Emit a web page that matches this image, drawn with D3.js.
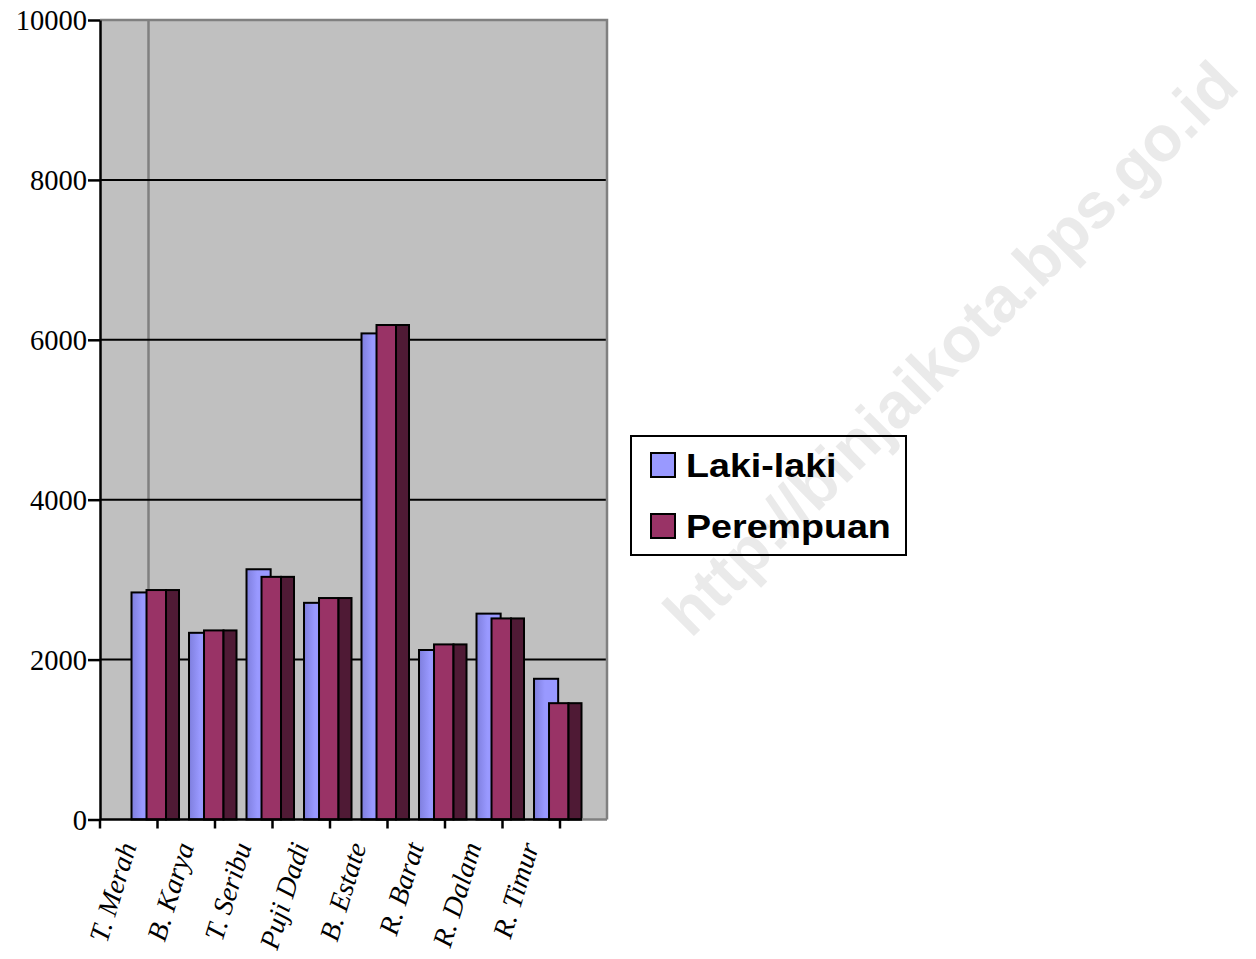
<!DOCTYPE html>
<html>
<head>
<meta charset="utf-8">
<script src="https://cdn.jsdelivr.net/npm/d3@7"></script>
<style>
  html, body { margin: 0; padding: 0; background: #ffffff; }
  svg { display: block; }
</style>
</head>
<body>
<svg id="chart" width="1256" height="959"></svg>
<script>
const categories = ["T. Merah", "B. Karya", "T. Seribu", "Puji Dadi", "B. Estate", "R. Barat", "R. Dalam", "R. Timur"];
const lakiLaki  = [2840, 2335, 3130, 2710, 6080, 2120, 2575, 1760];
const perempuan = [2870, 2365, 3035, 2770, 6185, 2190, 2515, 1455];
const yTicks = [0, 2000, 4000, 6000, 8000, 10000];
const seriesNames = ["Laki-laki", "Perempuan"];
const watermark = "http://binjaikota.bps.go.id";

const svg = d3.select("#chart");
const colBlue = "#9999FF", colRed = "#993366", colSide = "#4F1A35";

const defs = svg.append("defs");
const g1 = defs.append("linearGradient").attr("id", "blueGrad").attr("x1", "0%").attr("x2", "100%");
g1.append("stop").attr("offset", "0%").attr("stop-color", "#7E7EDD");
g1.append("stop").attr("offset", "45%").attr("stop-color", "#9999FF");
g1.append("stop").attr("offset", "100%").attr("stop-color", "#9999FF");

// watermark (behind)
svg.append("text")
  .attr("transform", "translate(966,364) rotate(-45)")
  .attr("text-anchor", "middle")
  .style("font-family", "'Liberation Sans', Arial, sans-serif")
  .style("font-weight", "bold")
  .style("font-size", "64px")
  .attr("fill", "#EAEAEA")
  .text(watermark);

const plotLeft = 100, plotRight = 607, plotTop = 20, plotBottom = 819.5;
const x = d3.scaleBand().domain(categories).range([100, 560]).padding(0);
const y = d3.scaleLinear().domain([0, 10000]).range([plotBottom, plotTop]);
const bw = x.bandwidth();

// plot background
svg.append("rect").attr("x", plotLeft).attr("y", plotTop)
  .attr("width", plotRight - plotLeft).attr("height", plotBottom - plotTop)
  .attr("fill", "#C0C0C0");

// back wall edge line
svg.append("line").attr("x1", 148.5).attr("x2", 148.5).attr("y1", plotTop).attr("y2", plotBottom)
  .attr("stroke", "#808080").attr("stroke-width", 2.5);

// gridlines
svg.append("g").selectAll("line").data(yTicks.filter(d => d > 0 && d < 10000)).join("line")
  .attr("x1", plotLeft).attr("x2", plotRight)
  .attr("y1", d => y(d)).attr("y2", d => y(d))
  .attr("stroke", "#000").attr("stroke-width", 2);

// plot border top/right (gray)
svg.append("path")
  .attr("d", `M${plotLeft},${plotTop}H${plotRight}V${plotBottom}`)
  .attr("fill", "none").attr("stroke", "#808080").attr("stroke-width", 2.5);

// bars
const bars = svg.append("g");
categories.forEach((c, i) => {
  const x0 = x(c);
  const gb = bars.append("g");
  gb.append("rect")
    .attr("x", x0 + bw * 0.548).attr("width", bw * 0.42)
    .attr("y", y(lakiLaki[i])).attr("height", y(0) - y(lakiLaki[i]))
    .attr("fill", "url(#blueGrad)").attr("stroke", "#000").attr("stroke-width", 2);
  gb.append("rect")
    .attr("x", x0 + bw * 0.809).attr("width", bw * 0.339)
    .attr("y", y(perempuan[i])).attr("height", y(0) - y(perempuan[i]))
    .attr("fill", colRed).attr("stroke", "#000").attr("stroke-width", 2);
  gb.append("rect")
    .attr("x", x0 + bw * 1.148).attr("width", bw * 0.226)
    .attr("y", y(perempuan[i])).attr("height", y(0) - y(perempuan[i]))
    .attr("fill", colSide).attr("stroke", "#000").attr("stroke-width", 2);
});

// y axis
const yAxis = d3.axisLeft(y).tickValues(yTicks).tickSize(12).tickSizeOuter(0).tickFormat(d3.format("d"));
const gy = svg.append("g").attr("transform", `translate(${plotLeft},0)`).call(yAxis);
gy.select(".domain").attr("stroke", "#000").attr("stroke-width", 2.5);
gy.selectAll(".tick line").attr("stroke", "#000").attr("stroke-width", 2.5);
gy.selectAll(".tick text")
  .attr("x", -13).attr("dy", "0.35em")
  .style("font-family", "'Liberation Serif', 'Times New Roman', serif")
  .style("font-size", "28.5px").attr("fill", "#000");

// x axis: ticks at band boundaries
const xTickPos = categories.map(c => x(c)).concat([x(categories[categories.length - 1]) + bw]);
svg.append("line").attr("x1", plotLeft).attr("x2", 582).attr("y1", plotBottom).attr("y2", plotBottom)
  .attr("stroke", "#000").attr("stroke-width", 2.5);
svg.append("line").attr("x1", 582).attr("x2", plotRight).attr("y1", plotBottom).attr("y2", plotBottom)
  .attr("stroke", "#808080").attr("stroke-width", 2.5);
svg.append("g").selectAll("line").data(xTickPos).join("line")
  .attr("x1", d => d).attr("x2", d => d).attr("y1", plotBottom).attr("y2", plotBottom + 9)
  .attr("stroke", "#000").attr("stroke-width", 2.5);

svg.append("g").selectAll("text").data(categories).join("text")
  .attr("transform", d => `translate(${x(d) + bw / 2 + 8},${846}) rotate(-73)`)
  .attr("text-anchor", "end")
  .style("font-family", "'Liberation Serif', 'Times New Roman', serif")
  .style("font-style", "italic")
  .style("font-size", "28px").attr("fill", "#000")
  .text(d => d);

// legend
const lg = svg.append("g");
lg.append("rect").attr("x", 631).attr("y", 436).attr("width", 275).attr("height", 119)
  .attr("fill", "none").attr("stroke", "#000").attr("stroke-width", 2);
const legCols = [colBlue, colRed];
seriesNames.forEach((s, i) => {
  const yy = 453 + i * 61;
  lg.append("rect").attr("x", 651).attr("y", yy).attr("width", 24).attr("height", 24)
    .attr("fill", legCols[i]).attr("stroke", "#000").attr("stroke-width", 2);
  lg.append("text")
    .attr("transform", `translate(686,${yy + 24}) scale(1.14,1)`)
    .style("font-family", "'Liberation Sans', Arial, sans-serif")
    .style("font-weight", "bold").style("font-size", "33px").attr("fill", "#000")
    .text(s);
});
</script>
</body>
</html>
